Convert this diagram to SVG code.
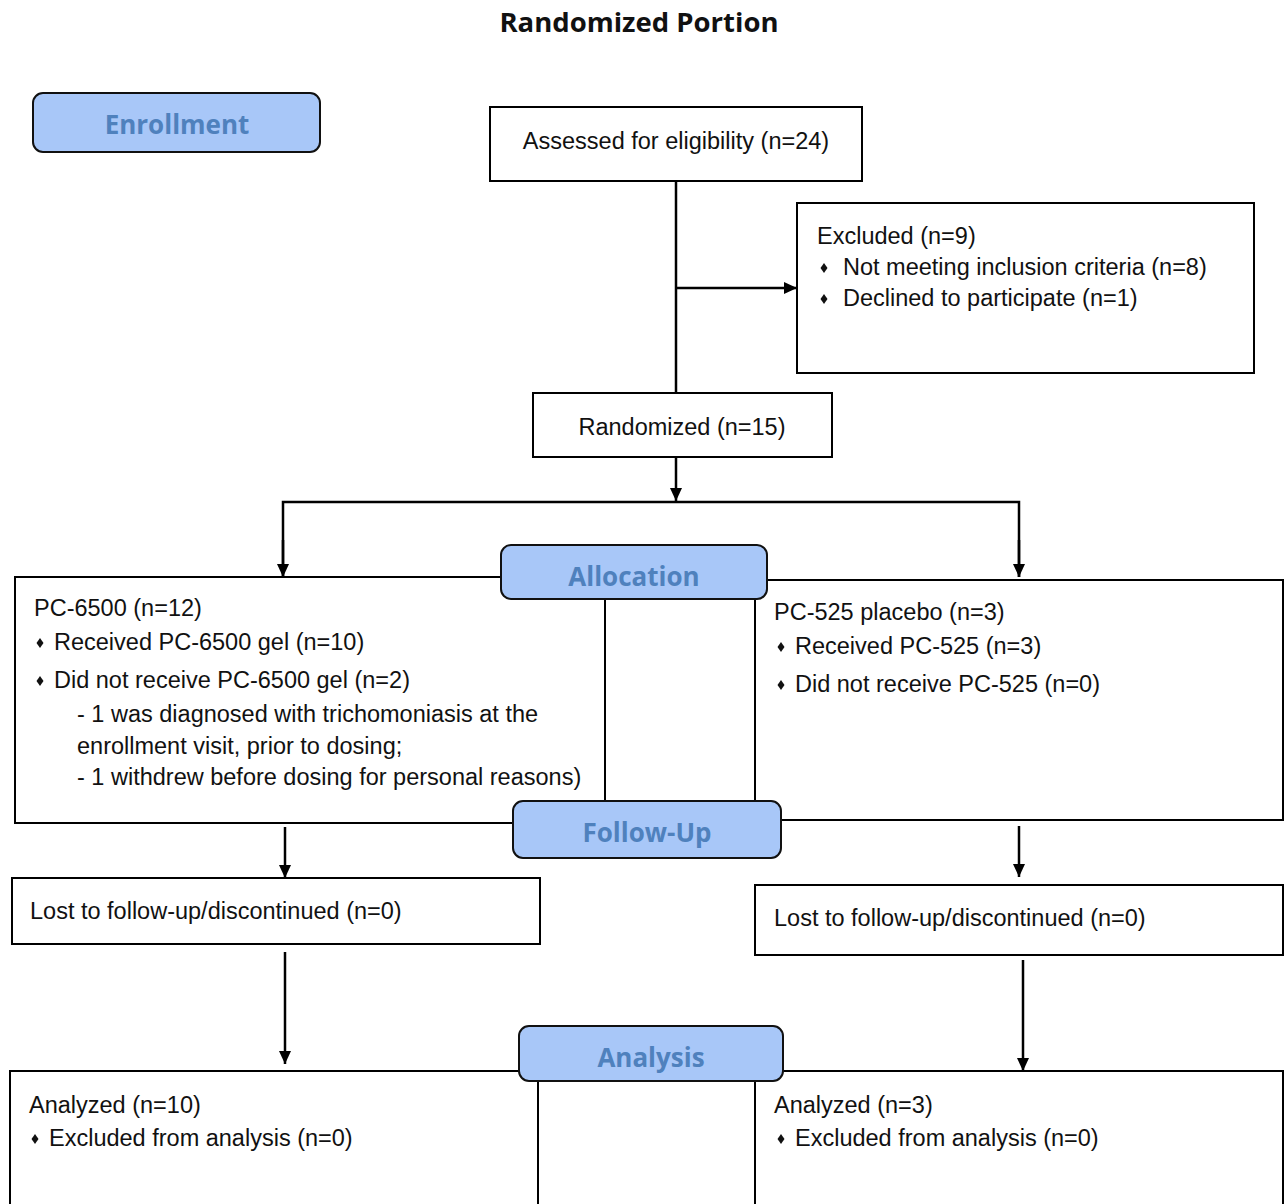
<svg xmlns="http://www.w3.org/2000/svg" xmlns:xlink="http://www.w3.org/1999/xlink" width="1288" height="1204" viewBox="0 0 1288 1204">
<style>
.box{fill:#fff;stroke:#000;stroke-width:2}
.edge{fill:none;stroke:#000;stroke-width:2}
.stage{fill:#a8c7f8;stroke:#111;stroke-width:2}
.stxt{font-family:"Open Sans","Noto Sans",sans-serif;font-weight:bold;font-size:26px;fill:#4f81bd;text-anchor:middle}
.t{font-family:"Liberation Sans",Arial,sans-serif;font-size:23.5px;fill:#111}
.title{font-family:"Open Sans","Noto Sans",sans-serif;font-weight:bold;font-size:27.5px;fill:#111;text-anchor:middle}
.conn{fill:none;stroke:#000;stroke-width:2.5}
</style>
<defs>
<marker id="arr" viewBox="0 0 13 12" refX="13" refY="6" markerWidth="13" markerHeight="12" markerUnits="userSpaceOnUse" orient="auto">
<path d="M0,0 L13,6 L0,12 Z" fill="#000"/>
</marker>
<path id="dia" d="M0,-5 L3.5,0 L0,5 L-3.5,0 Z" fill="#111"/>
</defs>

<text class="title" x="639" y="32">Randomized Portion</text>

<g id="connectors">
<line class="conn" x1="676" y1="181" x2="676" y2="393"/>
<line class="conn" x1="676" y1="288" x2="797" y2="288" marker-end="url(#arr)"/>
<line class="conn" x1="676" y1="457" x2="676" y2="501" marker-end="url(#arr)"/>
<polyline class="conn" points="283,577 283,502 1019,502 1019,577"/>
<line class="conn" x1="283" y1="540" x2="283" y2="577" marker-end="url(#arr)"/>
<line class="conn" x1="1019" y1="540" x2="1019" y2="577" marker-end="url(#arr)"/>
<line class="conn" x1="285" y1="827" x2="285" y2="878" marker-end="url(#arr)"/>
<line class="conn" x1="1019" y1="826" x2="1019" y2="877" marker-end="url(#arr)"/>
<line class="conn" x1="285" y1="952" x2="285" y2="1064" marker-end="url(#arr)"/>
<line class="conn" x1="1023" y1="960" x2="1023" y2="1071" marker-end="url(#arr)"/>
</g>

<g id="enrollment">
<rect class="stage" x="33" y="93" width="287" height="59" rx="10"/>
<text class="stxt" x="177" y="134">Enrollment</text>
</g>

<g id="assessed">
<rect class="box" x="490" y="107" width="372" height="74"/>
<text class="t" x="676" y="149" text-anchor="middle">Assessed for eligibility (n=24)</text>
</g>

<g id="excluded">
<rect class="box" x="797" y="203" width="457" height="170"/>
<text class="t" x="817" y="244">Excluded (n=9)</text>
<use xlink:href="#dia" x="824" y="268"/>
<text class="t" x="843" y="275">Not meeting inclusion criteria (n=8)</text>
<use xlink:href="#dia" x="824" y="299"/>
<text class="t" x="843" y="306">Declined to participate (n=1)</text>
</g>

<g id="randomized">
<rect class="box" x="533" y="393" width="299" height="64"/>
<text class="t" x="682" y="435" text-anchor="middle">Randomized (n=15)</text>
</g>

<g id="alloc-left">
<path class="edge" d="M501,577 H15 V823 H513"/>
<line class="edge" x1="605" y1="599" x2="605" y2="801"/>
<text class="t" x="34" y="616">PC-6500 (n=12)</text>
<use xlink:href="#dia" x="40" y="643"/>
<text class="t" x="54" y="650">Received PC-6500 gel (n=10)</text>
<use xlink:href="#dia" x="40" y="681"/>
<text class="t" x="54" y="688">Did not receive PC-6500 gel (n=2)</text>
<text class="t" x="77" y="722">- 1 was diagnosed with trichomoniasis at the</text>
<text class="t" x="77" y="754">enrollment visit, prior to dosing;</text>
<text class="t" x="77" y="785">- 1 withdrew before dosing for personal reasons)</text>
</g>

<g id="alloc-right">
<path class="edge" d="M767,580 H1283 V820 H781"/>
<line class="edge" x1="755" y1="599" x2="755" y2="801"/>
<text class="t" x="774" y="620">PC-525 placebo (n=3)</text>
<use xlink:href="#dia" x="781" y="647"/>
<text class="t" x="795" y="654">Received PC-525 (n=3)</text>
<use xlink:href="#dia" x="781" y="685"/>
<text class="t" x="795" y="692">Did not receive PC-525 (n=0)</text>
</g>

<g id="allocation">
<rect class="stage" x="501" y="545" width="266" height="54" rx="10"/>
<text class="stxt" x="634" y="586">Allocation</text>
</g>

<g id="followup">
<rect class="stage" x="513" y="801" width="268" height="57" rx="10"/>
<text class="stxt" x="647" y="842">Follow-Up</text>
</g>

<g id="lost-left">
<rect class="box" x="12" y="878" width="528" height="66"/>
<text class="t" x="30" y="919">Lost to follow-up/discontinued (n=0)</text>
</g>

<g id="lost-right">
<rect class="box" x="755" y="885" width="528" height="70"/>
<text class="t" x="774" y="926">Lost to follow-up/discontinued (n=0)</text>
</g>

<g id="analysis-left">
<path class="edge" d="M10,1210 V1071 H519"/>
<line class="edge" x1="538" y1="1081" x2="538" y2="1210"/>
<text class="t" x="29" y="1113">Analyzed (n=10)</text>
<use xlink:href="#dia" x="35" y="1139"/>
<text class="t" x="49" y="1146">Excluded from analysis (n=0)</text>
</g>

<g id="analysis-right">
<path class="edge" d="M783,1071 H1283 V1210"/>
<line class="edge" x1="755" y1="1081" x2="755" y2="1210"/>
<text class="t" x="774" y="1113">Analyzed (n=3)</text>
<use xlink:href="#dia" x="781" y="1139"/>
<text class="t" x="795" y="1146">Excluded from analysis (n=0)</text>
</g>

<g id="analysis">
<rect class="stage" x="519" y="1026" width="264" height="55" rx="10"/>
<text class="stxt" x="651" y="1067">Analysis</text>
</g>
</svg>
